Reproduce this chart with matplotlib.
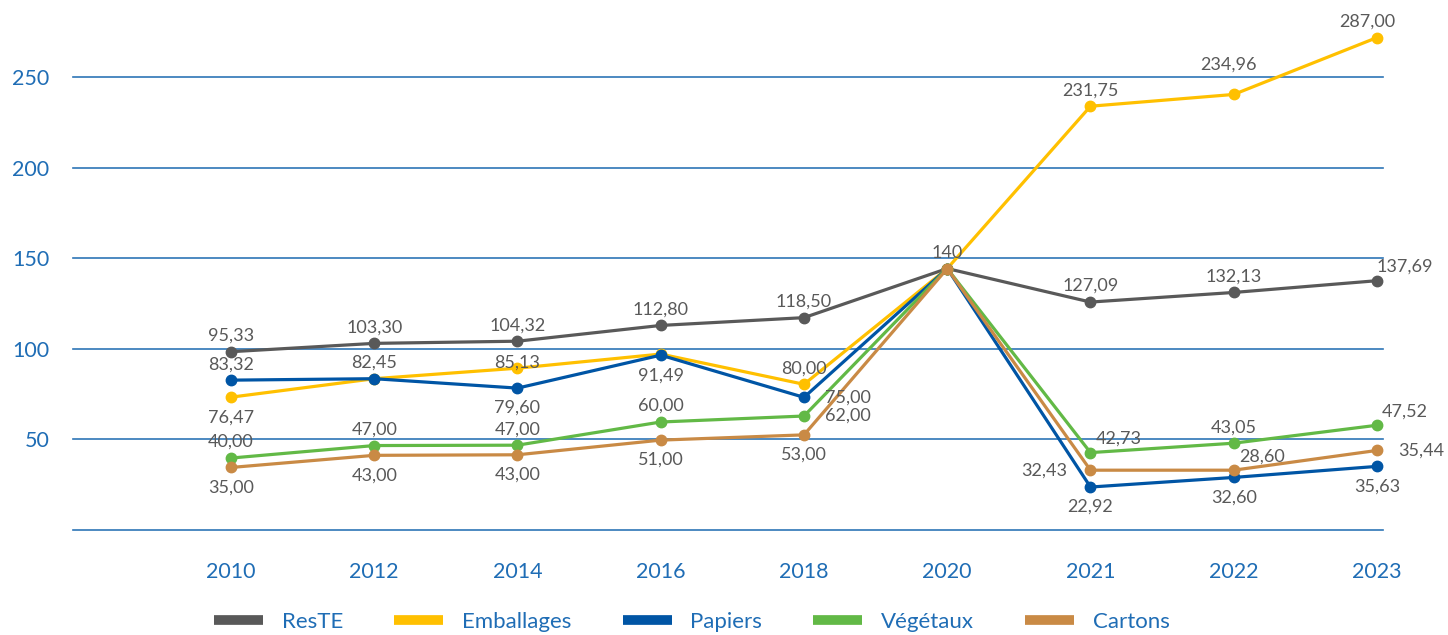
import matplotlib.pyplot as plt
from matplotlib.lines import Line2D

years = ["2010", "2012", "2014", "2016", "2018", "2020", "2021", "2022", "2023"]

# plotted values
reste = [98.4, 103.0, 104.2, 112.9, 117.2, 144.3, 125.8, 131.1, 137.6]
emballages = [73.3, 83.5, 89.3, 97.1, 80.4, 144.3, 233.9, 240.4, 271.8]
papiers = [82.7, 83.5, 78.3, 96.5, 73.2, 144.3, 23.7, 29.0, 35.1]
vegetaux = [39.7, 46.6, 46.8, 59.6, 62.9, 144.3, 42.7, 47.9, 57.8]
cartons = [34.5, 41.2, 41.5, 49.6, 52.5, 144.3, 33.0, 33.0, 43.9]

# data labels as printed on the chart
reste_lbl = ["95,33", "103,30", "104,32", "112,80", "118,50", "140", "127,09", "132,13", "137,69"]
emballages_lbl = ["76,47", "82,45", "85,13", None, "80,00", None, "231,75", "234,96", "287,00"]
papiers_lbl = ["83,32", None, "79,60", "91,49", "75,00", None, "22,92", "32,60", "35,63"]
vegetaux_lbl = ["40,00", "47,00", "47,00", "60,00", "62,00", None, "42,73", "43,05", "47,52"]
cartons_lbl = ["35,00", "43,00", "43,00", "51,00", "53,00", None, "32,43", "28,60", "35,44"]

names = ["ResTE", "Emballages", "Papiers", "Végétaux", "Cartons"]
colors = ["#595959", "#FFC000", "#0055A5", "#62B946", "#C98A45"]

# where each label sits relative to its point (pixels)
OFF = {"a": (0, 16), "b": (0, -20), "r": (44, 0), "l": (-46, 0), "aa": (-5, 30),
       "ar": (28, 14), "al": (-10, 16), "o": (0, 6)}
reste_pos = ["a", "a", "a", "a", "a", "a", "a", "a", "ar"]
emballages_pos = ["b", "a", "o", None, "a", None, "a", "aa", "al"]
papiers_pos = ["a", None, "b", "b", "r", None, "b", "b", "b"]
vegetaux_pos = ["a", "a", "a", "a", "r", None, "ar", "a", "ar"]
cartons_pos = ["b", "b", "b", "b", "b", None, "l", "ar", "r"]

plt.rcParams['font.family'] = ['Lato', 'DejaVu Sans']

fig = plt.figure(figsize=(14.48, 6.35), dpi=100)
ax = fig.add_axes([73 / 1448, 0.1654, (1383 - 73) / 1448, 290 * 0.002853])

grid_blue = "#2E75B6"
tick_blue = "#1F6DB5"
x = list(range(len(years)))

series = [(reste, reste_lbl, reste_pos), (emballages, emballages_lbl, emballages_pos),
          (papiers, papiers_lbl, papiers_pos), (vegetaux, vegetaux_lbl, vegetaux_pos),
          (cartons, cartons_lbl, cartons_pos)]

for yv in [0, 50, 100, 150, 200, 250]:
    ax.axhline(yv, color=grid_blue, lw=1.2, zorder=0, clip_on=False)

for (vals, lbls, pos), c in zip(series, colors):
    ax.plot(x, vals, color=c, lw=2.3, marker="o", ms=7.5, zorder=3)
    for xi, v, t, p in zip(x, vals, lbls, pos):
        if t is None:
            continue
        ax.annotate(t, (xi, v), xytext=OFF[p], textcoords="offset pixels",
                    ha="center", va="center", fontsize=13, color="#595959", zorder=5)

ax.set_xlim(-1.103, 8.042)
ax.set_ylim(0, 290)
ax.set_xticks(x)
ax.set_xticklabels(years)
ax.set_yticks([50, 100, 150, 200, 250])
ax.tick_params(length=0, labelsize=15.5, labelcolor=tick_blue)
ax.tick_params(axis="x", pad=23)
ax.tick_params(axis="y", pad=17)
for s in ax.spines.values():
    s.set_visible(False)

handles = [Line2D([], [], color=c, lw=7, solid_capstyle="butt") for c in colors]
fig.legend(handles, names, loc="center", bbox_to_anchor=(0.478, 0.021), ncol=5,
           frameon=False, fontsize=16, handlelength=2.2, handletextpad=0.85,
           columnspacing=2.3, labelcolor=tick_blue)

fig.savefig("out.png", dpi=100)
